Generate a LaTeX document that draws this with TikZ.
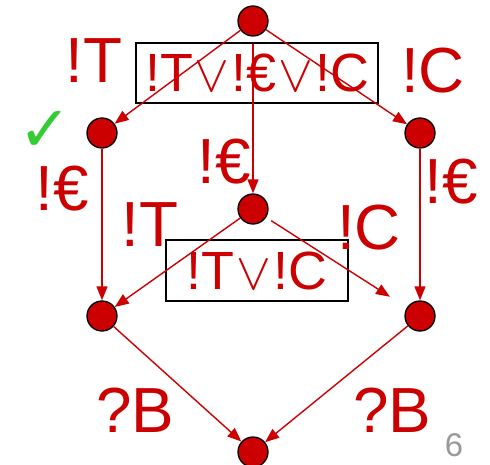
\documentclass[tikz,border=0pt]{standalone}
\usepackage{fontspec}
\usepackage{graphicx}
\setmainfont{Liberation Sans}
\newfontfamily\symfont{DejaVu Sans}
\usetikzlibrary{arrows.meta}
\definecolor{stateRed}{HTML}{CC0000}
\definecolor{tickGreen}{HTML}{33CC33}
\newcommand{\myor}{\kern2bp\scalebox{2.1}{$\vee$}\kern2bp}

\begin{document}
\begin{tikzpicture}[
x=1bp, y=-1bp,
state/.style={circle, draw=black, line width=1.3bp, fill=stateRed, minimum size=30bp, inner sep=0pt},
arrow/.style={-{Triangle[length=14bp, width=11bp]}, line width=1.4bp, stateRed},
lbl/.style={text=stateRed, inner sep=0pt, font=\fontsize{64}{64}\selectfont},
guard/.style={draw=black, line width=1.3bp, text=stateRed, inner sep=0pt, font=\fontsize{54}{54}\selectfont}
]
\useasboundingbox (0,0) rectangle (490,465);

% guard boxes
\node[guard, minimum width=242bp, minimum height=60bp] (allguard) at (257,73) {!T\myor!€\myor!C};
\node[guard, minimum width=182bp, minimum height=61bp] (midguard) at (257,270.5) {!T\myor!C};

% states
\node[state] (top) at (253,21) {};
\node[state] (left) at (102,133) {};
\node[state] (right) at (420,133) {};
\node[state] (mid) at (253,209) {};
\node[state] (lowleft) at (102,316) {};
\node[state] (lowright) at (420,316) {};
\node[state] (bottom) at (253,452) {};

% transitions
\draw[arrow] (top) -- (left);
\draw[arrow] (top) -- (right);
\draw[arrow, shorten <=7bp] (top) -- (mid);
\draw[arrow] (left) -- (lowleft);
\draw[arrow] (right) -- (lowright);
\draw[arrow] (mid) -- (lowleft);
\draw[arrow, shorten <=6bp, shorten >=20bp] (mid) -- (lowright);
\draw[arrow] (lowleft) -- (bottom);
\draw[arrow] (lowright) -- (bottom);

% labels
\node[lbl] (tTop) at (94,61) {!T};
\node[lbl] (cTop) at (433,71) {!C};
\node[lbl] (eLeft) at (62,189) {!€};
\node[lbl] (eMid) at (224,162) {!€};
\node[lbl] (eRight) at (451,182) {!€};
\node[lbl] (tMid) at (150,225) {!T};
\node[lbl] (cMid) at (369,228) {!C};
\node[lbl] (bLeft) at (135,410) {?B};
\node[lbl] (bRight) at (392,410) {?B};
\node[text=tickGreen, inner sep=0pt, font=\symfont\fontsize{64}{64}\selectfont] (tick) at (45,131) {✓};
\node[text=black!40, inner sep=0pt, font=\fontsize{33}{33}\selectfont] (page) at (454,445) {6};
\end{tikzpicture}
\end{document}
